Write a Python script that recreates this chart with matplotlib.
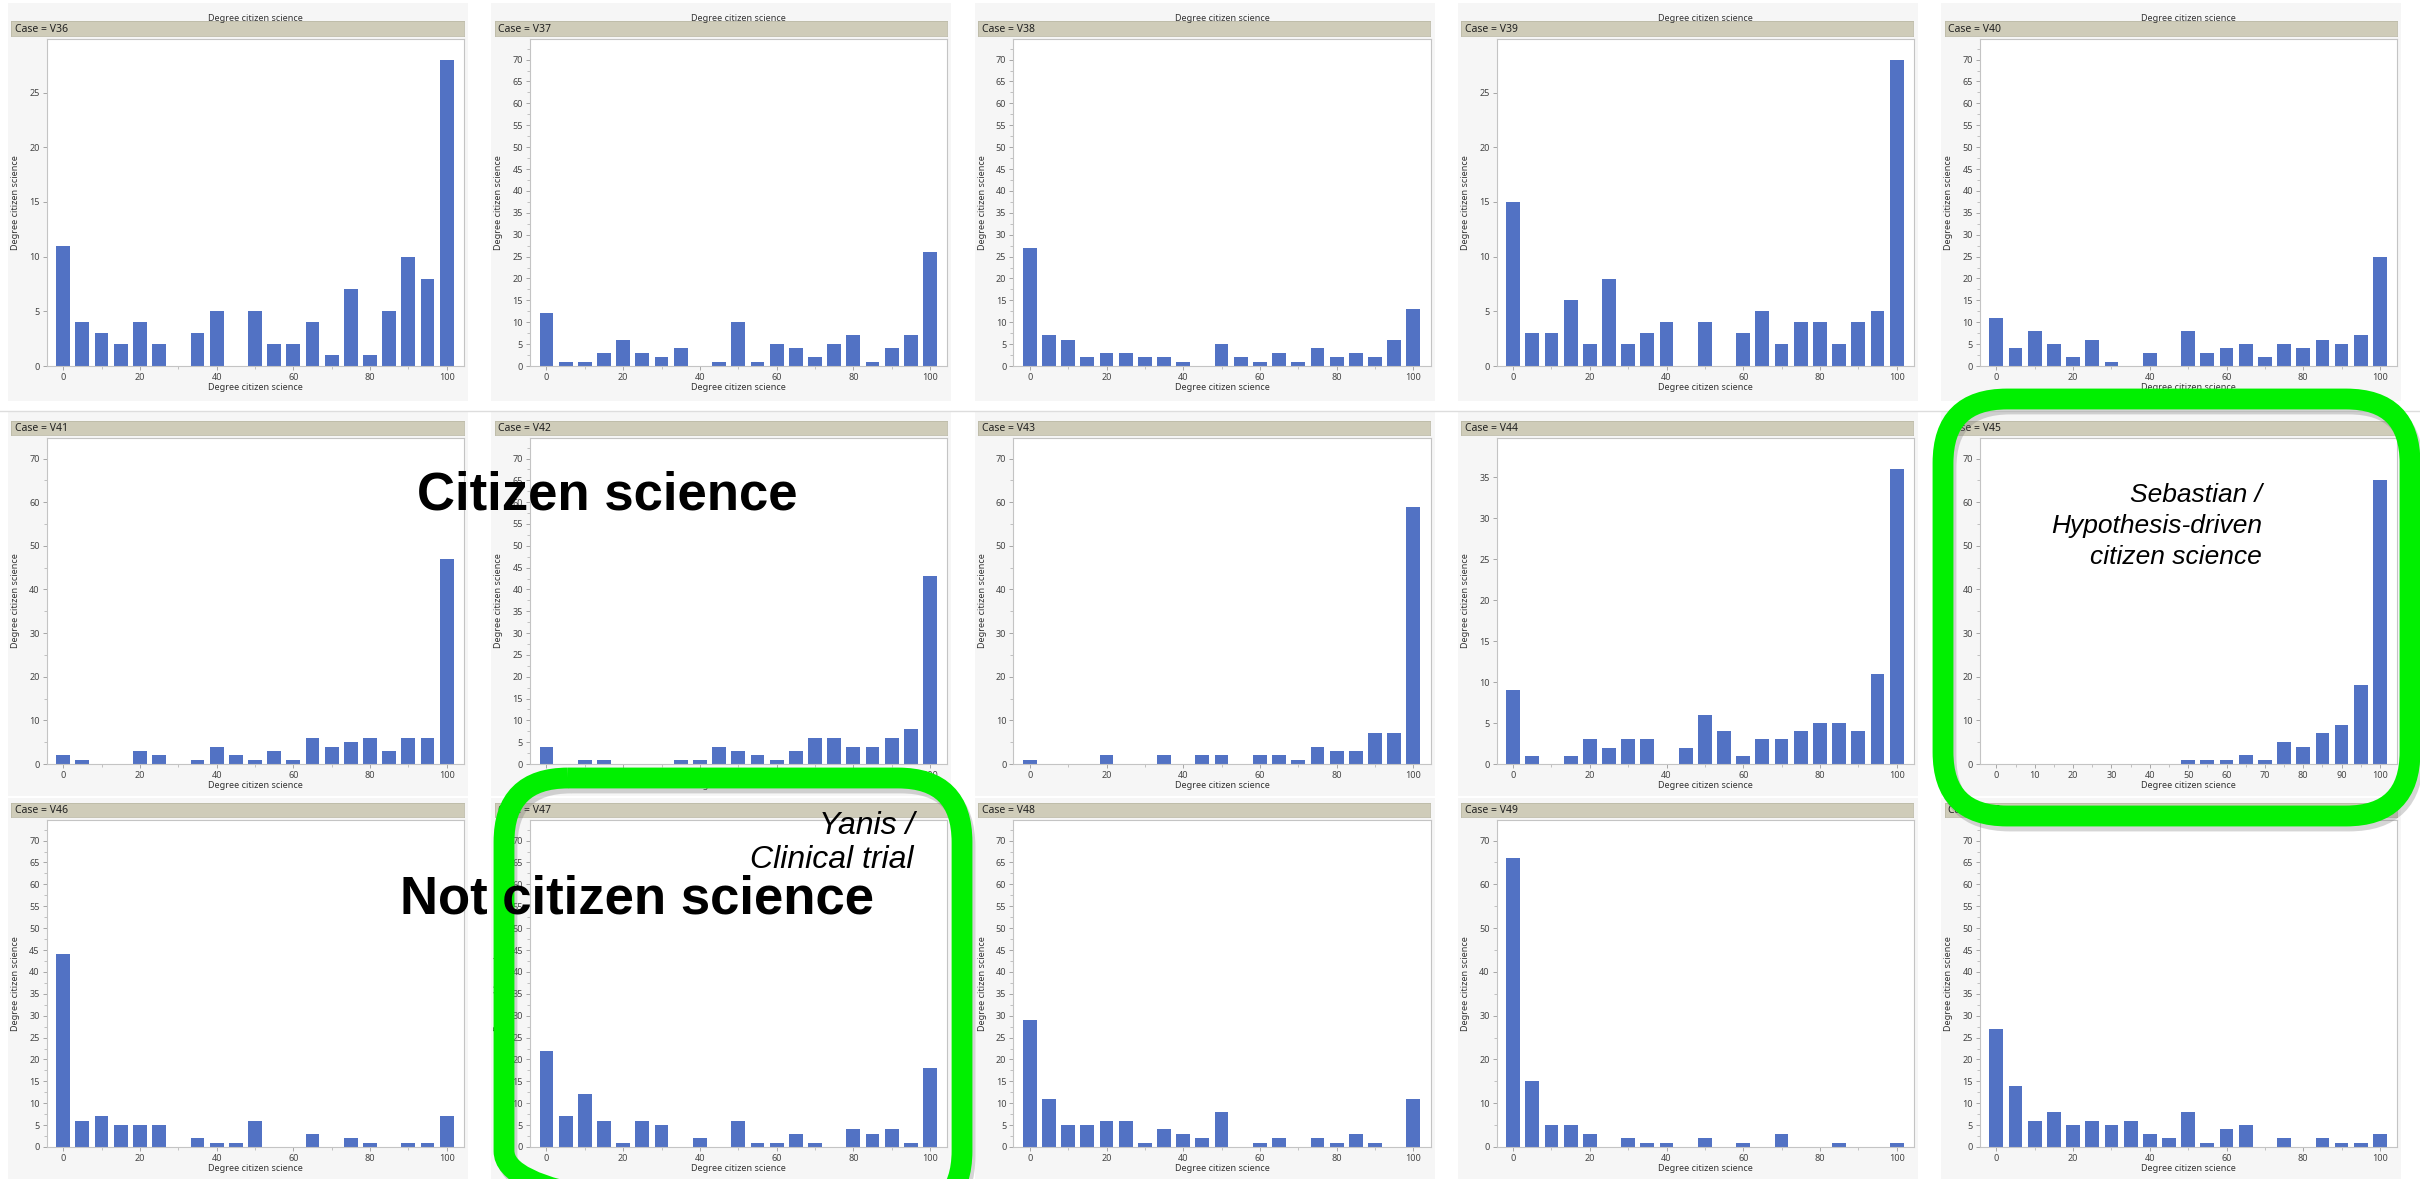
import matplotlib
matplotlib.use("Agg")
import matplotlib.pyplot as plt
from matplotlib.patches import FancyBboxPatch, Rectangle
from matplotlib.ticker import MultipleLocator

W, H = 2420, 1179

# histogram bins (bar centres), shared by every case
bins = list(range(0, 101, 5))

V36 = [11, 4, 3, 2, 4, 2, 0, 3, 5, 0, 5, 2, 2, 4, 1, 7, 1, 5, 10, 8, 28]
V37 = [12, 1, 1, 3, 6, 3, 2, 4, 0, 1, 10, 1, 5, 4, 2, 5, 7, 1, 4, 7, 26]
V38 = [27, 7, 6, 2, 3, 3, 2, 2, 1, 0, 5, 2, 1, 3, 1, 4, 2, 3, 2, 6, 13]
V39 = [15, 3, 3, 6, 2, 8, 2, 3, 4, 0, 4, 0, 3, 5, 2, 4, 4, 2, 4, 5, 28]
V40 = [11, 4, 8, 5, 2, 6, 1, 0, 3, 0, 8, 3, 4, 5, 2, 5, 4, 6, 5, 7, 25]
V41 = [2, 1, 0, 0, 3, 2, 0, 1, 4, 2, 1, 3, 1, 6, 4, 5, 6, 3, 6, 6, 47]
V42 = [4, 0, 1, 1, 0, 0, 0, 1, 1, 4, 3, 2, 1, 3, 6, 6, 4, 4, 6, 8, 43]
V43 = [1, 0, 0, 0, 2, 0, 0, 2, 0, 2, 2, 0, 2, 2, 1, 4, 3, 3, 7, 7, 59]
V44 = [9, 1, 0, 1, 3, 2, 3, 3, 0, 2, 6, 4, 1, 3, 3, 4, 5, 5, 4, 11, 36]
V45 = [0, 0, 0, 0, 0, 0, 0, 0, 0, 0, 1, 1, 1, 2, 1, 5, 4, 7, 9, 18, 65]
V46 = [44, 6, 7, 5, 5, 5, 0, 2, 1, 1, 6, 0, 0, 3, 0, 2, 1, 0, 1, 1, 7]
V47 = [22, 7, 12, 6, 1, 6, 5, 0, 2, 0, 6, 1, 1, 3, 1, 0, 4, 3, 4, 1, 18]
V48 = [29, 11, 5, 5, 6, 6, 1, 4, 3, 2, 8, 0, 1, 2, 0, 2, 1, 3, 1, 0, 11]
V49 = [66, 15, 5, 5, 3, 0, 2, 1, 1, 0, 2, 0, 1, 0, 3, 0, 0, 1, 0, 0, 1]
V50 = [27, 14, 6, 8, 5, 6, 5, 6, 3, 2, 8, 1, 4, 5, 0, 2, 0, 2, 1, 1, 3]

cases = ["V36", "V37", "V38", "V39", "V40",
         "V41", "V42", "V43", "V44", "V45",
         "V46", "V47", "V48", "V49", "V50"]
counts = [V36, V37, V38, V39, V40, V41, V42, V43, V44, V45,
          V46, V47, V48, V49, V50]

# y-axis top and major tick step for each case
y_top = [29.9, 74.7, 74.7, 29.9, 74.7,
         74.7, 74.7, 74.7, 39.8, 74.7,
         74.7, 74.7, 74.7, 74.7, 74.7]
y_step = [5, 5, 5, 5, 5,
          10, 5, 10, 5, 10,
          5, 5, 5, 10, 5]
x_step = [20] * 9 + [10] + [20] * 5

label = "Degree citizen science"
bar_color = "#5272c4"
band_color = "#cfccb9"
green = "#00f000"

plt.rcParams['font.family'] = ['Noto Sans', 'DejaVu Sans']

fig = plt.figure(figsize=(W / 100, H / 100), dpi=100, facecolor="white")


def px_axes(x0, y0, x1, y1, **kw):
    return fig.add_axes([x0 / W, 1 - y1 / H, (x1 - x0) / W, (y1 - y0) / H], **kw)


# panel backgrounds
bg = px_axes(0, 0, W, H, zorder=-5)
bg.set_xlim(0, W)
bg.set_ylim(H, 0)
bg.axis("off")

col_pitch = 483.3
row_axes = [(39, 366), (438, 764), (820, 1147)]
row_band = [(21, 36), (421, 435), (803, 817)]
row_bg = [(3, 401), (412, 796), (798, 1179)]

for r in range(3):
    for c in range(5):
        x = c * col_pitch
        bg.add_patch(Rectangle((x + 8, row_bg[r][0]), 460, row_bg[r][1] - row_bg[r][0],
                               facecolor="#f6f6f6", edgecolor="none"))
bg.plot([0, W], [411, 411], color="#dddddd", lw=1)

for i, case in enumerate(cases):
    r, c = divmod(i, 5)
    x = c * col_pitch
    top, bot = row_axes[r]

    # "Case = Vnn" band above each histogram
    band = px_axes(x + 11.3, row_band[r][0], x + 463.5, row_band[r][1])
    band.set_facecolor(band_color)
    band.set_xticks([])
    band.set_yticks([])
    for s in band.spines.values():
        s.set_color("#bdbba8")
        s.set_linewidth(0.6)
    band.text(0.008, 0.45, "Case = " + case, transform=band.transAxes,
              ha="left", va="center", fontsize=7.5, fontweight="bold", color="#222222")

    ax = px_axes(x + 46.7, top, x + 464, bot)
    ax.set_facecolor("white")
    ax.bar(bins, counts[i], width=3.6, color=bar_color, edgecolor="none")
    ax.set_xlim(-4.3, 104.5)
    ax.set_ylim(0, y_top[i])
    ax.xaxis.set_major_locator(MultipleLocator(x_step[i]))
    ax.xaxis.set_minor_locator(MultipleLocator(x_step[i] / 2))
    ax.yaxis.set_major_locator(MultipleLocator(y_step[i]))
    if y_top[i] > 70:
        ax.yaxis.set_minor_locator(MultipleLocator(y_step[i] / 2))
    ax.set_xticks([t for t in ax.get_xticks() if 0 <= t <= 100])
    ax.set_yticks([t for t in ax.get_yticks() if 0 <= t <= y_top[i]])
    ax.tick_params(axis="both", which="major", length=3, width=0.6,
                   color="#999999", labelsize=6.5, labelcolor="#444444", pad=2)
    ax.tick_params(axis="both", which="minor", length=2, width=0.5, color="#aaaaaa")
    for s in ax.spines.values():
        s.set_color("#c4c4c4")
        s.set_linewidth(0.8)
    ax.set_ylabel(label, fontsize=6.5, color="#333333")
    ax.yaxis.set_label_coords(-0.064, 0.5)
    ax.set_xlabel(label, fontsize=6.5, color="#333333", labelpad=1)
    if r == 0:
        ax.set_title(label, fontsize=6.5, color="#333333", pad=13)

# annotations and highlight frames on top of everything
ov = px_axes(0, 0, W, H, zorder=10)
ov.set_xlim(0, W)
ov.set_ylim(H, 0)
ov.axis("off")
ov.patch.set_alpha(0)

frames = [(1943, 399, 2410, 816), (504, 778, 962, 1215)]
for x0, y0, x1, y1 in frames:
    ov.add_patch(FancyBboxPatch((x0 + 3, y0 + 5), x1 - x0, y1 - y0,
                                boxstyle="round,pad=0,rounding_size=64",
                                fill=False, edgecolor="#777777", alpha=0.3, lw=15))
    ov.add_patch(FancyBboxPatch((x0, y0), x1 - x0, y1 - y0,
                                boxstyle="round,pad=0,rounding_size=64",
                                fill=False, edgecolor=green, lw=15))

ov.text(417, 495, "Citizen science", fontsize=38, fontweight="bold",
        family="Liberation Sans", ha="left", va="center", color="black")
ov.text(400, 900, "Not citizen science", fontsize=38, fontweight="bold",
        family="Liberation Sans", ha="left", va="center", color="black")
ov.text(2262, 526, "Sebastian /\nHypothesis-driven\ncitizen science", fontsize=19,
        style="italic", family="Liberation Sans", ha="right", va="center",
        multialignment="right", linespacing=1.35, color="black")
ov.text(914, 843, "Yanis /\nClinical trial", fontsize=23,
        style="italic", family="Liberation Sans", ha="right", va="center",
        multialignment="right", linespacing=1.2, color="black")

fig.savefig("out.png", dpi=100, facecolor=fig.get_facecolor())
